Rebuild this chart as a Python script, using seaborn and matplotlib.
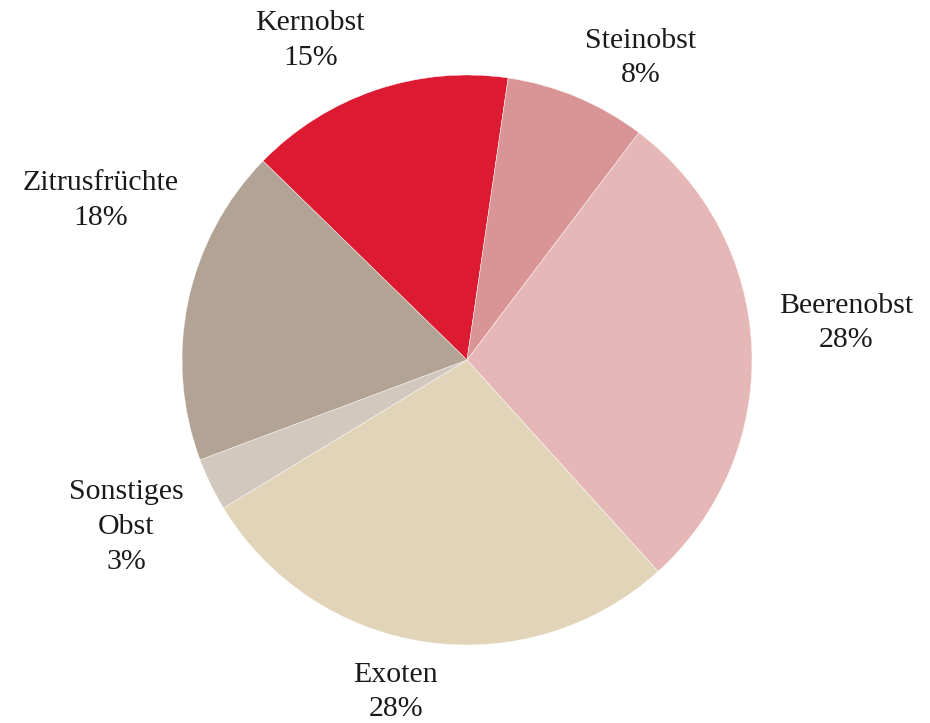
import matplotlib
matplotlib.use("Agg")
import matplotlib.pyplot as plt
import seaborn as sns

# data
categories = ["Kernobst", "Steinobst", "Beerenobst", "Exoten", "Sonstiges\nObst", "Zitrusfrüchte"]
shares = [15, 8, 28, 28, 3, 18]
colors = ["#DC1A32", "#D99595", "#E6B7B7", "#E2D4B8", "#D3C8BE", "#B2A394"]

# label anchor positions (in pie radius units)
label_pos = [(-0.55, 1.12), (0.61, 1.06), (1.33, 0.13), (-0.25, -1.165), (-1.196, -0.586), (-1.284, 0.56)]

sns.set_style("white")
plt.rcParams['font.family'] = ['Liberation Serif', 'DejaVu Serif']

fig = plt.figure(figsize=(9.3, 7.23), dpi=100)
ax = fig.add_axes([182/930, 78/723, 570/930, 570/723])
wedges, _ = ax.pie(shares, colors=colors, startangle=135.7, counterclock=False,
                   radius=1, center=(0, 0),
                   wedgeprops=dict(edgecolor="white", linewidth=0.3))
ax.set_xlim(-1, 1)
ax.set_ylim(-1, 1)
ax.set_aspect("equal")
ax.axis("off")

for name, val, (x, y) in zip(categories, shares, label_pos):
    ax.text(x, y, f"{name}\n{val}%", ha="center", va="center", fontsize=21.5,
            color="#1a1a1a", linespacing=1.43, multialignment="center")

fig.savefig("out.png", dpi=100, facecolor="white")
